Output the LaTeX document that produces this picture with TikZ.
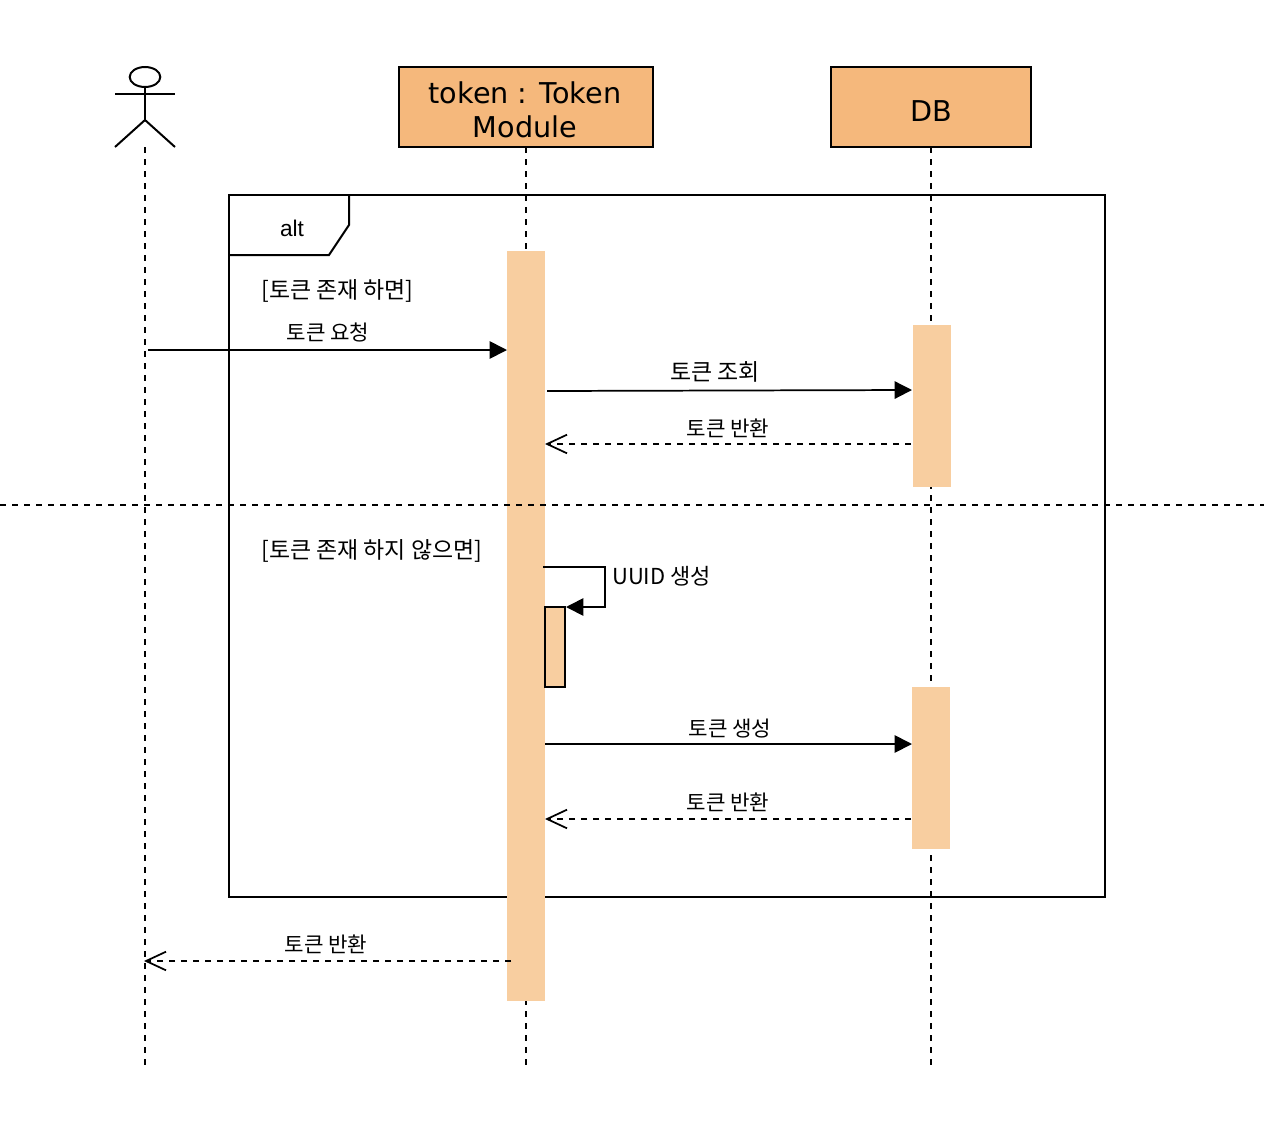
\documentclass[tikz,border=0pt]{standalone}
\usepackage{fontspec}
\setmainfont{Noto Sans CJK KR}
\newfontfamily\boxfont{DejaVu Sans}
\newfontfamily\altfont{Liberation Sans}
\usetikzlibrary{arrows.meta,positioning,shapes.geometric}
\definecolor{headfill}{HTML}{F5B87C}
\definecolor{barfill}{HTML}{F8CEA0}
\tikzset{
  x=0.75pt,y=-0.75pt,
  lifeline/.style={line width=1.3pt,draw=black,dash pattern=on 4.5pt off 4.5pt},
  headbox/.style={draw=black,line width=1.5pt,fill=headfill,inner sep=0pt,outer sep=0pt,anchor=north west},
  headtext/.style={inner sep=0pt,font=\boxfont\fontsize{21.5}{25.5}\selectfont,align=center},
  bar/.style={fill=barfill,inner sep=0pt,outer sep=0pt,anchor=north west,minimum width=28.5pt},
  lbl/.style={inner sep=0pt,font=\fontsize{15.9}{18}\selectfont,text=black},
  biglbl/.style={inner sep=0pt,font=\fontsize{17.2}{20}\selectfont,text=black},
  sync/.style={line width=1.3pt,draw=black,-{Triangle[length=13pt,width=13pt]}},
  reply/.style={line width=1.3pt,draw=black,dash pattern=on 4.5pt off 4.5pt,-{Straight Barb[length=15pt,width=14pt,line width=1.3pt]}},
  strokeline/.style={line width=1.5pt,draw=black},
}
\begin{document}
\begin{tikzpicture}
\useasboundingbox (0,0) rectangle (1264,1128);
% heads
\node[headbox,minimum width=190.5pt,minimum height=60pt] (tok) at (399,67) {};
\node[headbox,minimum width=150pt,minimum height=60pt] (db) at (831,67) {};
\node[headtext] (tokt) at (525,110) {token : Token\\Module};
\node[headtext] (dbt) at (931,111) {DB};
% actor
\coordinate (actfoot) at (145,147);
\node[strokeline,ellipse,minimum width=23pt,minimum height=15pt,inner sep=0pt,outer sep=0pt] (acthead) at (145,77) {};
\coordinate (acthip) at (145,120);
\coordinate (actarml) at (115,94);
\coordinate (actarmr) at (175,94);
\coordinate (actfootl) at (115,147);
\coordinate (actfootr) at (175,147);
\draw[strokeline] (acthead.south) -- (acthip);
\draw[strokeline] (actarml) -- (actarmr);
\draw[strokeline] (actfootl) -- (acthip) -- (actfootr);
% lifelines
\coordinate (actend) at (145,1065);
\coordinate (tokend) at (526,1065);
\coordinate (dbend) at (931,1065);
\draw[lifeline] (actfoot) -- (actend);
\draw[lifeline] (tok.south) -- (tokend);
\draw[lifeline] (db.south) -- (dbend);
% frame
\node[strokeline,inner sep=0pt,outer sep=0pt,anchor=north west,minimum width=657pt,minimum height=526.5pt] (frame) at (229,195) {};
\coordinate (tabtr) at (349,195);
\coordinate (tabr) at (349,225);
\coordinate (tabb) at (329,255);
\coordinate (tabl) at (229,255);
\draw[strokeline] (tabtr) -- (tabr) -- (tabb) -- (tabl);
\node[inner sep=0pt,font=\altfont\fontsize{17}{18}\selectfont] (alt) at (292,228) {alt};
% activation bars
\node[bar,minimum height=562.5pt] (tokbar) at (507,251) {};
\node[bar,minimum height=121.5pt] (dbbar1) at (913,325) {};
\node[bar,minimum height=121.5pt] (dbbar2) at (912,687) {};
% separator
\coordinate (sepl) at (0,505);
\coordinate (sepr) at (1264,505);
\draw[lifeline] (sepl) -- (sepr);
% self activation
\node[strokeline,fill=barfill,inner sep=0pt,outer sep=0pt,anchor=north west,minimum width=15pt,minimum height=60pt] (selfbar) at (545,607) {};
% messages
\coordinate (m1a) at (148,350);
\coordinate (m1b) at (507,350);
\draw[sync] (m1a) -- (m1b);
\node[lbl] (l1) at (328,332) {토큰 요청};
\coordinate (m2a) at (547,391);
\coordinate (m2b) at (912,390);
\draw[sync] (m2a) -- (m2b);
\node[biglbl] (l2) at (715,372) {토큰 조회};
\coordinate (m3a) at (911,444);
\coordinate (m3b) at (545,444);
\draw[reply] (m3a) -- (m3b);
\node[lbl] (l3) at (728,428) {토큰 반환};
\coordinate (s1) at (543,567);
\coordinate (s2) at (605,567);
\coordinate (s3) at (605,607);
\coordinate (s4) at (566,607);
\draw[sync] (s1) -- (s2) -- (s3) -- (s4);
\node[lbl,anchor=west,font=\fontsize{16.5}{18}\selectfont] (l4) at (612,576) {UUID 생성};
\coordinate (m5a) at (545,744);
\coordinate (m5b) at (912,744);
\draw[sync] (m5a) -- (m5b);
\node[lbl] (l5) at (730,729) {토큰 생성};
\coordinate (m6a) at (911,819);
\coordinate (m6b) at (545,819);
\draw[reply] (m6a) -- (m6b);
\node[lbl] (l6) at (728,802) {토큰 반환};
\coordinate (m7a) at (511,961);
\coordinate (m7b) at (144,961);
\draw[reply] (m7a) -- (m7b);
\node[lbl] (l7) at (326,944) {토큰 반환};
% guards
\node[biglbl,anchor=west] (g1) at (261,291) {[토큰 존재 하면]};
\node[biglbl,anchor=west] (g2) at (261,551) {[토큰 존재 하지 않으면]};
\end{tikzpicture}
\end{document}
